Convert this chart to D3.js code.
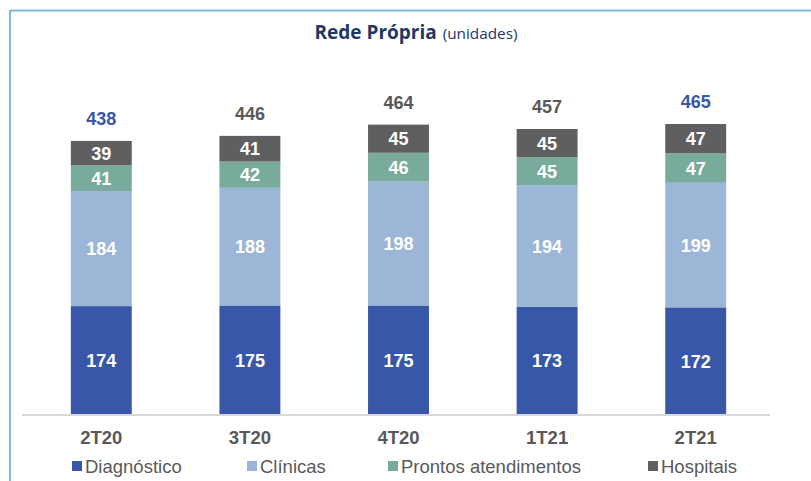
<!DOCTYPE html>
<html>
<head>
<meta charset="utf-8">
<script src="https://cdn.jsdelivr.net/npm/d3@7"></script>
<style>
  html, body { margin: 0; padding: 0; background: #fff; }
  svg { display: block; }
</style>
</head>
<body>
<svg id="chart" width="811" height="481"></svg>
<script>
// Quarterly units of the own network, stacked by type
const periods = ["2T20", "3T20", "4T20", "1T21", "2T21"];
const diagnostico = [174, 175, 175, 173, 172];
const clinicas = [184, 188, 198, 194, 199];
const prontos = [41, 42, 46, 45, 47];
const hospitais = [39, 41, 45, 45, 47];
const totals = [438, 446, 464, 457, 465];
const highlighted = ["2T20", "2T21"];

const seriesNames = ["Diagnóstico", "Clínicas", "Prontos atendimentos", "Hospitais"];
const seriesColors = ["#3857a8", "#9bb6d6", "#78ab9c", "#5f5f61"];

const rows = periods.map((p, i) => ({
  period: p,
  "Diagnóstico": diagnostico[i],
  "Clínicas": clinicas[i],
  "Prontos atendimentos": prontos[i],
  "Hospitais": hospitais[i]
}));

const svg = d3.select("#chart");
const labelFont = "'Liberation Sans', Arial, sans-serif";

// frame lines along the top and left edges
svg.append("line").attr("x1", 10).attr("x2", 811).attr("y1", 10.5).attr("y2", 10.5)
  .attr("stroke", "#7fbcd9").attr("stroke-width", 2);
svg.append("line").attr("x1", 10).attr("x2", 10).attr("y1", 10).attr("y2", 481)
  .attr("stroke", "#7fbcd9").attr("stroke-width", 2);

// title
const title = svg.append("text").attr("x", 416).attr("y", 39)
  .attr("text-anchor", "middle")
  .attr("font-family", "'Open Sans', sans-serif")
  .attr("fill", "#1f3864");
title.append("tspan").attr("font-weight", 700).attr("font-size", 19).text("Rede Própria");
title.append("tspan").attr("font-size", 15.3).attr("dx", 6).text("(unidades)");

const x = d3.scaleBand().domain(periods).range([27, 770]).paddingInner(0.59).paddingOuter(0.295);
const y = d3.scaleLinear().domain([0, 465]).range([415, 124]);

const stack = d3.stack().keys(seriesNames);
const layers = stack(rows);

const g = svg.append("g");
layers.forEach((layer, si) => {
  g.selectAll(null).data(layer).enter().append("rect")
    .attr("x", d => x(d.data.period))
    .attr("width", x.bandwidth())
    .attr("y", d => y(d[1]))
    .attr("height", d => y(d[0]) - y(d[1]))
    .attr("fill", seriesColors[si]);
  g.selectAll(null).data(layer).enter().append("text")
    .attr("x", d => x(d.data.period) + x.bandwidth() / 2)
    .attr("y", d => (y(d[0]) + y(d[1])) / 2)
    .attr("dy", "0.36em")
    .attr("text-anchor", "middle")
    .attr("font-family", labelFont)
    .attr("font-weight", 700)
    .attr("font-size", 18)
    .attr("fill", "#ffffff")
    .text(d => d[1] - d[0]);
});

// totals above bars
g.selectAll(null).data(periods).enter().append("text")
  .attr("x", p => x(p) + x.bandwidth() / 2)
  .attr("y", (p, i) => y(totals[i]) - 16)
  .attr("text-anchor", "middle")
  .attr("font-family", labelFont)
  .attr("font-weight", 700)
  .attr("font-size", 18)
  .attr("fill", p => highlighted.includes(p) ? "#3857a8" : "#595959")
  .text((p, i) => totals[i]);

// baseline
svg.append("line").attr("x1", 22).attr("x2", 770).attr("y1", 415).attr("y2", 415)
  .attr("stroke", "#d9d9d9").attr("stroke-width", 2);

// category axis
const xAxis = svg.append("g").attr("transform", "translate(0,415)")
  .call(d3.axisBottom(x).tickSize(0).tickPadding(16));
xAxis.select(".domain").remove();
xAxis.selectAll("text")
  .attr("font-family", labelFont)
  .attr("font-weight", 700)
  .attr("font-size", 18.5)
  .attr("fill", "#595959");

// legend
const legendX = [72, 247, 388, 648];
const legend = svg.append("g");
seriesNames.forEach((name, i) => {
  legend.append("rect").attr("x", legendX[i]).attr("y", 461).attr("width", 10).attr("height", 10)
    .attr("fill", seriesColors[i]);
  legend.append("text").attr("x", legendX[i] + 13).attr("y", 473)
    .attr("font-family", labelFont)
    .attr("font-size", 18.5)
    .attr("fill", "#595959")
    .text(name);
});
</script>
</body>
</html>
